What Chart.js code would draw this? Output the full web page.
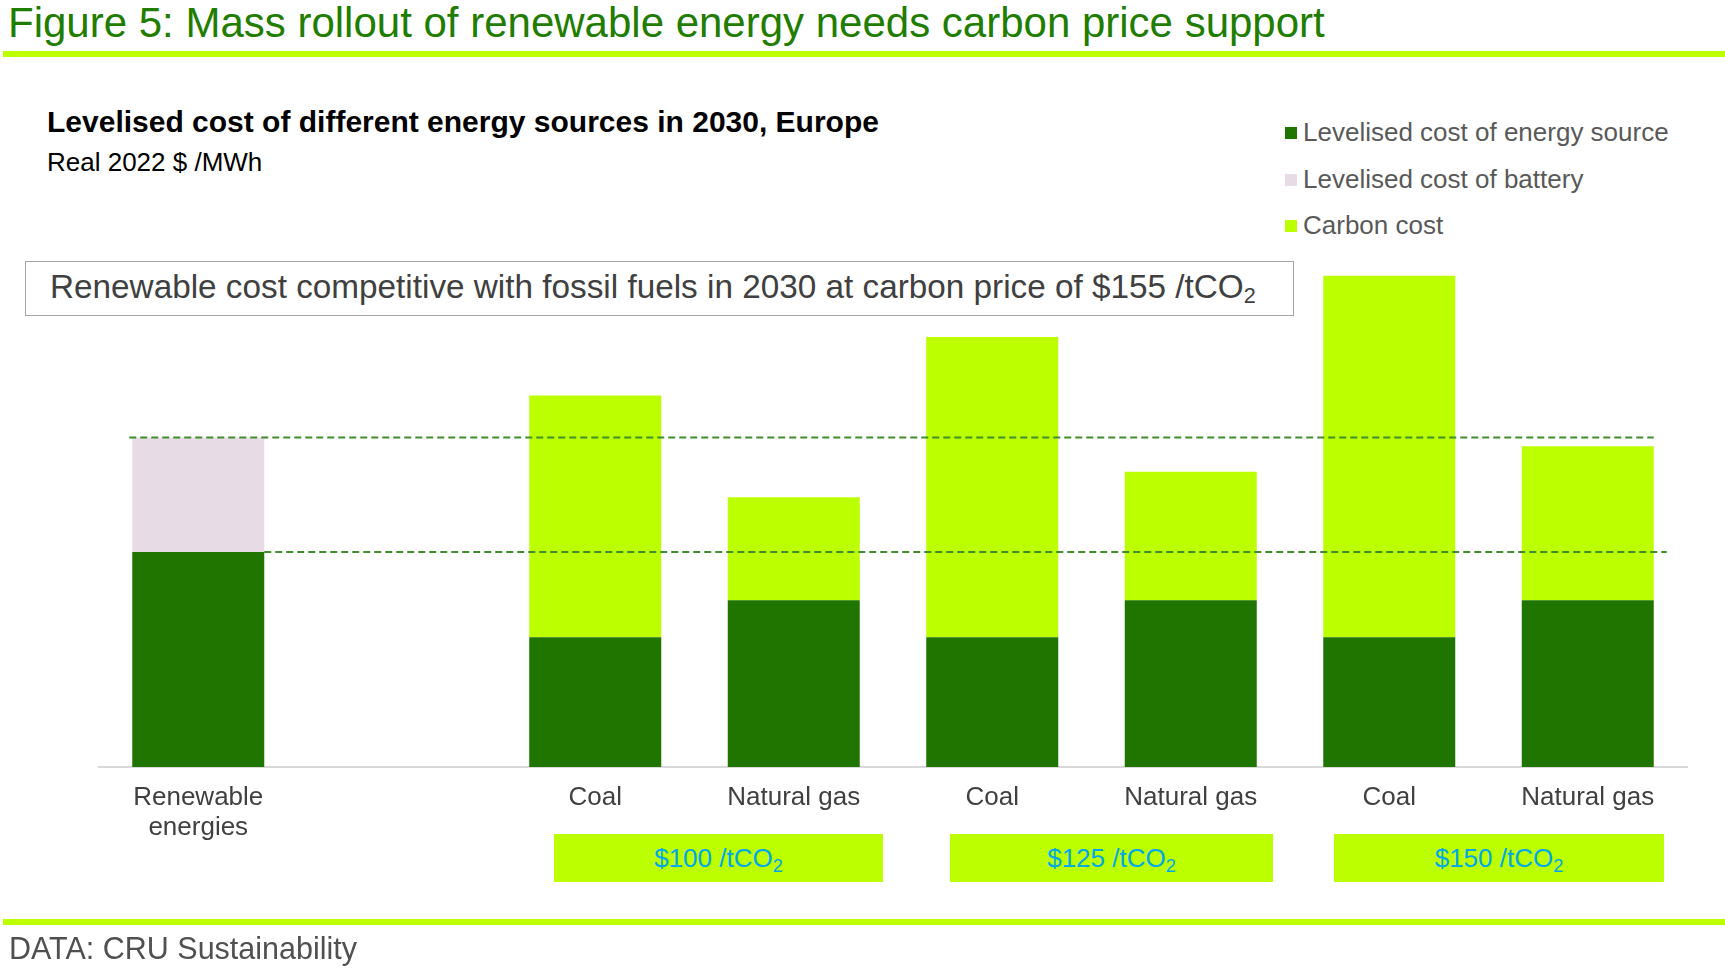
<!DOCTYPE html>
<html>
<head>
<meta charset="utf-8">
<script src="https://cdn.jsdelivr.net/npm/chart.js@4.4.1/dist/chart.umd.min.js"></script>
<style>
  html, body { margin: 0; padding: 0; background: #fff; }
  body { width: 1725px; height: 978px; position: relative; overflow: hidden; font-family: "Liberation Sans", Arial, sans-serif; }
  .abs { position: absolute; line-height: 1; white-space: nowrap; }
  .rule { position: absolute; left: 3px; right: 0; height: 6px; background: #bbff00; }
  #title { left: 8px; top: 2px; font-size: 42px; color: #217d00; }
  #sub1 { left: 47px; top: 107px; font-size: 30px; font-weight: bold; color: #000; }
  #sub2 { left: 47px; top: 149px; font-size: 26px; color: #000; }
  #legend { left: 1285px; top: 119px; }
  #legend div { position: relative; height: 46.5px; font-size: 26px; color: #595959; padding-left: 18px; line-height: 1; }
  #legend span { position: absolute; left: 0; top: 8px; width: 12px; height: 12px; }
  #note { left: 25px; top: 261px; width: 1267px; height: 53px; border: 1.5px solid #a6a6a6; }
  #note div { position: absolute; left: 24px; top: 8px; font-size: 33.3px; color: #404040; line-height: 1; }
  #note sub { font-size: 0.65em; vertical-align: -0.25em; }
  .price { position: absolute; top: 834px; height: 48px; background: #bbff00; color: #00a8e8; font-size: 26px;
           display: flex; align-items: center; justify-content: center; }
  .price sub { font-size: 0.7em; vertical-align: -0.28em; line-height: 0; }
  #src { left: 9px; top: 933px; font-size: 30.5px; color: #505050; }
  canvas { position: absolute; left: 0; top: 0; }
</style>
</head>
<body>
<div class="abs" id="title">Figure 5: Mass rollout of renewable energy needs carbon price support</div>
<div class="rule" style="top:51px"></div>
<div class="abs" id="sub1">Levelised cost of different energy sources in 2030, Europe</div>
<div class="abs" id="sub2">Real 2022 $ /MWh</div>
<div class="abs" id="legend"></div>
<div class="abs" id="note"><div>Renewable cost competitive with fossil fuels in 2030 at carbon price of $155 /tCO<sub>2</sub></div></div>
<canvas id="chart" width="1725" height="978"></canvas>
<div class="price" style="left:554px;width:329px"><span>$100 /tCO<sub>2</sub></span></div>
<div class="price" style="left:950px;width:323px"><span>$125 /tCO<sub>2</sub></span></div>
<div class="price" style="left:1334px;width:330px"><span>$150 /tCO<sub>2</sub></span></div>
<div class="rule" style="top:919px"></div>
<div class="abs" id="src">DATA: CRU Sustainability</div>

<script>
// Real 2022 $/MWh
const categories = [['Renewable', 'energies'], '', 'Coal', 'Natural gas', 'Coal', 'Natural gas', 'Coal', 'Natural gas'];
const sourceCost = [84.5, null, 51, 65.5, 51, 65.5, 51, 65.5];
const batteryCost = [45, null, null, null, null, null, null, null];
const carbonCost = [null, null, 95, 40.5, 118, 50.5, 142, 60.5];

const seriesNames = ['Levelised cost of energy source', 'Levelised cost of battery', 'Carbon cost'];
const seriesColors = ['#1f7500', '#e7dce6', '#bbff00'];

// html legend
const legendEl = document.getElementById('legend');
seriesNames.forEach((name, i) => {
  const row = document.createElement('div');
  row.innerHTML = '<span style="background:' + seriesColors[i] + '"></span>' + name;
  legendEl.appendChild(row);
});

// dashed reference lines at the renewable cost levels
const refLines = {
  id: 'refLines',
  afterDatasetsDraw(chart) {
    const ctx = chart.ctx;
    const y = chart.scales.y;
    const first = chart.getDatasetMeta(0).data[0];
    const last = chart.getDatasetMeta(2).data[7];
    const half = first.width / 2;
    const base = sourceCost[0];
    const total = sourceCost[0] + batteryCost[0];
    ctx.save();
    ctx.strokeStyle = '#3f8d2c';
    ctx.lineWidth = 2;
    ctx.setLineDash([7, 4]);
    ctx.beginPath();
    ctx.moveTo(first.x - half - 3, y.getPixelForValue(total));
    ctx.lineTo(last.x + half, y.getPixelForValue(total));
    ctx.moveTo(first.x + half, y.getPixelForValue(base));
    ctx.lineTo(last.x + half + 13, y.getPixelForValue(base));
    ctx.stroke();
    ctx.restore();
  }
};

new Chart(document.getElementById('chart').getContext('2d'), {
  type: 'bar',
  data: {
    labels: categories,
    datasets: [
      { label: seriesNames[0], data: sourceCost, backgroundColor: seriesColors[0] },
      { label: seriesNames[1], data: batteryCost, backgroundColor: seriesColors[1] },
      { label: seriesNames[2], data: carbonCost, backgroundColor: seriesColors[2] }
    ]
  },
  options: {
    responsive: false,
    animation: false,
    devicePixelRatio: 1,
    categoryPercentage: 1,
    barPercentage: 0.665,
    layout: { padding: { left: 99, right: 38, top: 258, bottom: 131 } },
    plugins: { legend: { display: false }, tooltip: { enabled: false } },
    scales: {
      x: {
        stacked: true,
        grid: { display: false, drawTicks: false },
        border: { display: true, color: '#d9d9d9', width: 2 },
        ticks: { color: '#404040', padding: 16, maxRotation: 0, autoSkip: false,
                 font: { family: '"Liberation Sans", Arial, sans-serif', size: 26, lineHeight: 1.15 } },
        afterFit(scale) { scale.height = 80; }
      },
      y: { stacked: true, display: false, min: 0, max: 200 }
    }
  },
  plugins: [refLines]
});
</script>
</body>
</html>
